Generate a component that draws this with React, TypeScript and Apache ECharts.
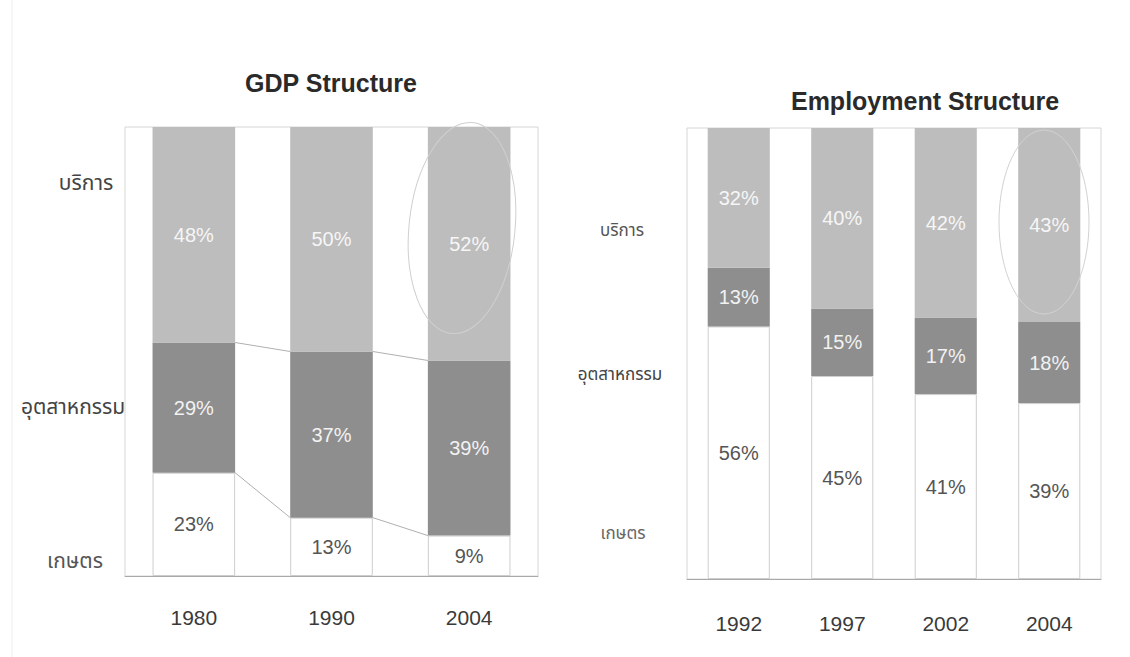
import React, { useEffect, useRef } from "react";
import * as echarts from "echarts";

const gdpYears = ["1980", "1990", "2004"];
const gdpAgri = [23, 13, 9];
const gdpInd = [29, 37, 39];
const gdpSvc = [48, 50, 52];

const empYears = ["1992", "1997", "2002", "2004"];
const empAgri = [56, 45, 41, 39];
const empInd = [13, 15, 17, 18];
const empSvc = [32, 40, 42, 43];

const sectorLabels = ["บริการ", "อุตสาหกรรม", "เกษตร"];
const chartTitles = ["GDP Structure", "Employment Structure"];

const SANS = "'Liberation Sans', Arial, sans-serif";
const THAI = "'Noto Sans Thai', 'Noto Serif Thai', Loma, Garuda, 'Tlwg Typo', sans-serif";

const SVC_COLOR = "#bdbdbd";
const IND_COLOR = "#8e8e8e";
const BAR_FRAC = 0.6;

function barSeries(name: string, data: number[], idx: number, color: string, labelColor: string, border: boolean) {
  return {
    name,
    type: "bar",
    stack: "s" + idx,
    xAxisIndex: idx,
    yAxisIndex: idx,
    data,
    barWidth: "60%",
    itemStyle: {
      color,
      borderColor: border ? "#cdcdcd" : color,
      borderWidth: border ? 1 : 0,
    },
    label: {
      show: true,
      position: "inside",
      formatter: "{c}%",
      color: labelColor,
      fontFamily: SANS,
      fontSize: 20,
    },
  };
}

function seriesLineData(agri: number[], ind: number[]) {
  const out: number[][] = [];
  for (let i = 0; i < agri.length - 1; i++) {
    out.push([i, agri[i], agri[i + 1]]);
    out.push([i, agri[i] + ind[i], agri[i + 1] + ind[i + 1]]);
  }
  return out;
}

export default function App() {
  const ref = useRef<HTMLDivElement>(null);
  useEffect(() => {
    document.body.style.margin = "0";
    const chart = echarts.init(ref.current!, undefined, { renderer: "svg" });
    const option = {
      animation: false,
      backgroundColor: "#ffffff",
      title: [
        {
          text: chartTitles[0],
          left: 326,
          top: 65,
          textAlign: "center",
          textStyle: { fontFamily: SANS, fontSize: 25, fontWeight: "bold", color: "#2a2a2a" },
        },
        {
          text: chartTitles[1],
          left: 920,
          top: 83,
          textAlign: "center",
          textStyle: { fontFamily: SANS, fontSize: 25, fontWeight: "bold", color: "#2a2a2a" },
        },
      ],
      grid: [
        { left: 125, top: 127, width: 413, height: 449, show: true, borderColor: "#d6d6d6", borderWidth: 1 },
        { left: 687, top: 128, width: 414, height: 451, show: true, borderColor: "#d6d6d6", borderWidth: 1 },
      ],
      xAxis: [
        {
          type: "category",
          gridIndex: 0,
          data: gdpYears,
          axisTick: { show: false },
          axisLine: { lineStyle: { color: "#a9a9a9" } },
          axisLabel: { fontFamily: SANS, fontSize: 21, color: "#3a3a3a", margin: 31 },
        },
        {
          type: "category",
          gridIndex: 1,
          data: empYears,
          axisTick: { show: false },
          axisLine: { lineStyle: { color: "#a9a9a9" } },
          axisLabel: { fontFamily: SANS, fontSize: 21, color: "#3a3a3a", margin: 34 },
        },
      ],
      yAxis: [
        { type: "value", gridIndex: 0, min: 0, max: 100, show: false, splitLine: { show: false } },
        { type: "value", gridIndex: 1, min: 0, max: 100, show: false, splitLine: { show: false } },
      ],
      series: [
        barSeries("เกษตร", gdpAgri, 0, "#ffffff", "#555555", true),
        barSeries("อุตสาหกรรม", gdpInd, 0, IND_COLOR, "#f2f2f2", false),
        barSeries("บริการ", gdpSvc, 0, SVC_COLOR, "#f6f6f6", false),
        barSeries("เกษตร", empAgri, 1, "#ffffff", "#555555", true),
        barSeries("อุตสาหกรรม", empInd, 1, IND_COLOR, "#f2f2f2", false),
        barSeries("บริการ", empSvc, 1, SVC_COLOR, "#f6f6f6", false),
        {
          type: "custom",
          xAxisIndex: 0,
          yAxisIndex: 0,
          z: 5,
          data: seriesLineData(gdpAgri, gdpInd),
          encode: { x: 0, y: 1 },
          renderItem: (params: any, api: any) => {
            const i = api.value(0);
            const p1 = api.coord([i, api.value(1)]);
            const p2 = api.coord([i + 1, api.value(2)]);
            const half = (api.size([1, 0])[0] * BAR_FRAC) / 2;
            return {
              type: "line",
              shape: { x1: p1[0] + half, y1: p1[1], x2: p2[0] - half, y2: p2[1] },
              style: { stroke: "#b0b0b0", lineWidth: 1 },
            };
          },
        },
      ],
      graphic: [
        { type: "line", shape: { x1: 12, y1: 0, x2: 12, y2: 657 }, style: { stroke: "#ececec", lineWidth: 1 } },
        { type: "text", x: 86, y: 183, style: { text: sectorLabels[0], font: `21px ${THAI}`, fill: "#444", align: "center", verticalAlign: "middle" } },
        { type: "text", x: 73, y: 407, style: { text: sectorLabels[1], font: `21px ${THAI}`, fill: "#444", align: "center", verticalAlign: "middle" } },
        { type: "text", x: 75, y: 561, style: { text: sectorLabels[2], font: `21px ${THAI}`, fill: "#555", align: "center", verticalAlign: "middle" } },
        { type: "text", x: 622, y: 231, style: { text: sectorLabels[0], font: `17px ${THAI}`, fill: "#555", align: "center", verticalAlign: "middle" } },
        { type: "text", x: 620, y: 375, style: { text: sectorLabels[1], font: `17px ${THAI}`, fill: "#444", align: "center", verticalAlign: "middle" } },
        { type: "text", x: 623, y: 534, style: { text: sectorLabels[2], font: `17px ${THAI}`, fill: "#666", align: "center", verticalAlign: "middle" } },
        {
          type: "ellipse",
          x: 462,
          y: 228,
          rotation: -0.1,
          shape: { cx: 0, cy: 0, rx: 53, ry: 106 },
          style: { fill: "none", stroke: "#cfcfcf", lineWidth: 1 },
          z: 10,
        },
        {
          type: "ellipse",
          x: 1044,
          y: 222,
          shape: { cx: 0, cy: 0, rx: 45, ry: 92 },
          style: { fill: "none", stroke: "#d2d2d2", lineWidth: 1 },
          z: 10,
        },
      ],
    };
    chart.setOption(option as any);
    return () => chart.dispose();
  }, []);
  return <div ref={ref} style={{ position: "absolute", left: 0, top: 0, width: 1130, height: 657 }} />;
}
